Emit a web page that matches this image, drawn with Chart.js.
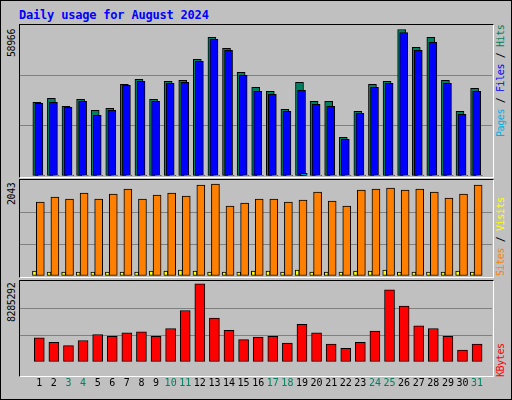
<!DOCTYPE html>
<html>
<head>
<meta charset="utf-8">
<script src="https://cdn.jsdelivr.net/npm/chart.js@4/dist/chart.umd.min.js"></script>
<style>
  body { margin: 0; width: 512px; height: 400px; background: #fff; }
  #frame { position: absolute; left: 0; top: 0; width: 510px; height: 398px; background: #c0c0c0; border: 1px solid #000; }
  .panel { position: absolute; left: 19px; width: 473px; border-top: 1px solid #000; border-left: 1px solid #000; border-right: 1px solid #fff; border-bottom: 1px solid #fff; }
  canvas { position: absolute; }
  .txt { position: absolute; font-family: "DejaVu Sans Mono", monospace; font-size: 10px; letter-spacing: -0.4px; white-space: nowrap; transform-origin: 0 0; transform: rotate(-90deg); }
  #titulo { position: absolute; left: 19px; top: 8px; font: bold 12px "DejaVu Sans Mono", monospace; letter-spacing: -0.2px; color: #0000ff; }
</style>
</head>
<body>
<div id="frame"></div>
<div id="titulo">Daily usage for August 2024</div>
<div class="panel" style="top:24px;height:152px"></div>
<div class="panel" style="top:179px;height:97px"></div>
<div class="panel" style="top:280px;height:95px"></div>
<canvas id="c-hits" style="left:20px;top:25px"></canvas>
<canvas id="c-sites" style="left:20px;top:180px"></canvas>
<canvas id="c-kbytes" style="left:20px;top:281px"></canvas>
<div class="txt" style="left:6px;top:57px">58966</div>
<div class="txt" style="left:6px;top:205px">2043</div>
<div class="txt" style="left:6px;top:322px">8285292</div>
<div class="txt" style="left:495px;top:137px"><span style="color:#00b0e0">Pages</span><span style="color:#000"> / </span><span style="color:#0000ff">Files</span><span style="color:#000"> / </span><span style="color:#008060">Hits</span></div>
<div class="txt" style="left:495px;top:276px"><span style="color:#ff8000">Sites</span><span style="color:#000"> / </span><span style="color:#ffff00">Visits</span></div>
<div class="txt" style="left:495px;top:377px;color:#ff0000">KBytes</div>

<script>
// Dados do gráfico
const dias = Array.from({ length: 31 }, (_, i) => i + 1);
const fimDeSemana = [3, 4, 10, 11, 17, 18, 24, 25, 31];

const hits = [29660, 31270, 28050, 30870, 26440, 27240, 36900, 38920, 30870, 38110, 38520, 46970, 55830, 51400, 41740, 35700, 34090, 26840, 37710, 30060, 30060, 15570, 26040, 36900, 38110, 58966, 51800, 55830, 38520, 26040, 35300];
const files = [29250, 29660, 27650, 30060, 24430, 26440, 36500, 38110, 30060, 37310, 37710, 46170, 55020, 50590, 40530, 34090, 32880, 26040, 34490, 28860, 28050, 14760, 25230, 35700, 37310, 57750, 50590, 53820, 37310, 24830, 34090];
const pages = [150, 150, 150, 150, 150, 150, 150, 150, 150, 150, 150, 150, 150, 150, 150, 150, 150, 150, 1070, 150, 150, 150, 150, 150, 150, 150, 150, 150, 150, 150, 150];
const visits = [111, 89, 89, 89, 89, 89, 89, 89, 111, 111, 133, 111, 89, 89, 89, 111, 111, 89, 133, 89, 89, 89, 111, 111, 133, 89, 89, 89, 89, 111, 89];
const sites = [1643, 1754, 1709, 1843, 1709, 1820, 1931, 1709, 1798, 1843, 1776, 2020, 2043, 1554, 1621, 1709, 1709, 1643, 1687, 1865, 1665, 1554, 1909, 1931, 1954, 1909, 1931, 1865, 1731, 1820, 2020];
const kbytes = [2549000, 2094000, 1730000, 2276000, 2914000, 2731000, 3096000, 3187000, 2731000, 3551000, 5463000, 8285292, 4643000, 3369000, 2367000, 2640000, 2731000, 2003000, 4006000, 3096000, 1912000, 1457000, 2094000, 3278000, 7648000, 5918000, 3824000, 3551000, 2731000, 1275000, 1912000];

// Monta uma série de barras deslocada em x
function serie(valores, desloc, cor, largura, ordem) {
    return {
        data: valores.map((v, i) => ({ x: dias[i] + desloc, y: v })),
        backgroundColor: cor,
        borderColor: '#000',
        borderWidth: 1,
        borderSkipped: false,
        barThickness: largura,
        order: ordem,
        grouped: false
    };
}

// Cria um painel do gráfico
function criarPainel(id, largura, altura, maxY, datasets, comEixoX) {
    const canvas = document.getElementById(id);
    canvas.style.width = largura + 'px';
    canvas.style.height = altura + 'px';
    return new Chart(canvas, {
        type: 'bar',
        data: { datasets: datasets },
        options: {
            responsive: false,
            animation: false,
            devicePixelRatio: 1,
            layout: { padding: 0 },
            plugins: { legend: { display: false }, tooltip: { enabled: false } },
            scales: {
                x: {
                    type: 'linear', min: 0.2, max: 31.5,
                    display: comEixoX,
                    border: { display: false },
                    grid: { display: false },
                    afterBuildTicks: s => { s.ticks = dias.map(d => ({ value: d })); },
                    ticks: {
                        autoSkip: false, maxRotation: 0, padding: 7,
                        font: { family: 'DejaVu Sans Mono', size: 10 },
                        color: ctx => fimDeSemana.includes(ctx.tick.value) ? '#008060' : '#000',
                        callback: v => String(v)
                    }
                },
                y: {
                    min: 0, max: maxY,
                    afterBuildTicks: s => { s.ticks = [0, 1, 2, 3].map(k => ({ value: maxY * k / 3 })); },
                    ticks: { display: false },
                    border: { display: false },
                    grid: {
                        drawTicks: false,
                        color: ctx => (ctx.index === 1 || ctx.index === 2) ? '#808080' : 'rgba(0,0,0,0)'
                    }
                }
            }
        }
    });
}

criarPainel('c-hits', 472, 151, 60780, [
    serie(hits, -0.17, '#008060', 8, 3),
    serie(files, -0.03, '#0000ff', 8, 2),
    serie(pages, 0.12, '#00c0ff', 7, 1)
], false);

criarPainel('c-sites', 472, 96, 2132, [
    serie(visits, -0.33, '#ffff00', 4, 2),
    serie(sites, 0.07, '#ff8000', 8, 1)
], false);

criarPainel('c-kbytes', 472, 115, 8586000, [
    serie(kbytes, 0, '#ff0000', 10, 1)
], true);
</script>
</body>
</html>
